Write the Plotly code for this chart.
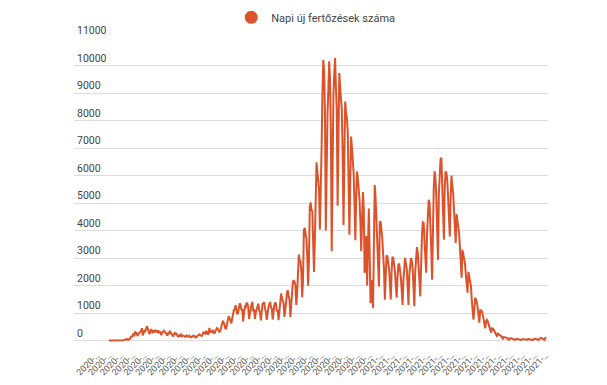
import pandas as pd
import plotly.graph_objects as go

# Days before the series starts (no value drawn)
cases_lead_in = [None] * 14

# Daily new infections, week rows starting Wed 2020-02-26
cases_2020_spring = [
    1, 0, 1, 1, 0, 0, 0,
    1, 1, 2, 3, 3, 3, 2,
    8, 13, 12, 10, 17, 29, 25,
    60, 30, 30, 59, 66, 143, 143,
    186, 263, 160, 308, 293, 251, 170,
    247, 309, 316, 353, 450, 193, 270,
    360, 346, 442, 523, 440, 314, 230,
    334, 414, 340, 274, 381, 306, 363,
    318, 314, 372, 309, 350, 233, 198,
    305, 314, 362, 327, 320, 248, 186,
    264, 253, 355, 300, 264, 190, 154,
    232, 278, 241, 250, 190, 130, 187,
    173, 219, 158, 190, 158, 165, 136,
    163, 191, 146, 140, 180, 133, 123,
]
cases_2020_summer = [
    136, 160, 182, 138, 154, 115, 146,
    188, 219, 230, 200, 190, 168, 214,
    320, 277, 254, 330, 320, 214, 262,
    460, 321, 325, 320, 390, 301, 250,
    337, 422, 456, 427, 377, 301, 362,
    555, 614, 698, 662, 559, 420, 456,
    673, 777, 889, 767, 698, 628, 800,
    1030, 1112, 1120, 1284, 1137, 960, 1020,
    1182, 1356, 1295, 1104, 1151, 694, 1000,
    1233, 1211, 1378, 1345, 1241, 793, 1046,
    1287, 1331, 1409, 1060, 1145, 789, 1020,
    1173, 1231, 1346, 1092, 1039, 733, 1060,
    1339, 1357, 1404, 1152, 1051, 757, 1050,
    1197, 1331, 1403, 1214, 1170, 767, 1218,
    1298, 1385, 1339, 1059, 1119, 741, 1193,
]
cases_2020_autumn = [
    1391, 1713, 1545, 1420, 1347, 866, 1059,
    1410, 1767, 1828, 1603, 1496, 851, 1235,
    1591, 2158, 2175, 2140, 1994, 1300, 1700,
    2958, 3130, 2919, 2880, 2516, 1578, 2200,
    4016, 4102, 3952, 3689, 3106, 2000, 2880,
    4848, 5028, 4742, 4712, 3727, 2496, 3630,
    5639, 6481, 6143, 5753, 5469, 4036, 5080,
    7000, 9000, 10200, 9800, 8300, 4000, 6500,
    8200, 9100, 10150, 9500, 7600, 3250, 6700,
    8900, 9700, 10270, 9200, 8400, 4900, 6800,
    9730, 9200, 8800, 8400, 6700, 4200, 6600,
    8690, 8300, 8100, 7600, 5900, 3850, 5800,
    7420, 7000, 6600, 6100, 5000, 3650, 5200,
    6150, 5900, 5600, 5100, 4300, 3250, 4400,
    5400, 4800, 2470, 2600, 3800, 2000, 4000,
]
cases_2021_winter = [
    4800, 3200, 1370, 1500, 2200, 1190, 3500,
    5660, 5200, 4400, 4100, 3100, 1970, 4330,
    4300, 4000, 3700, 3100, 2600, 1490, 2700,
    3100, 3060, 2900, 2600, 2100, 1500, 2500,
    3050, 3000, 2800, 2500, 2000, 1560, 2300,
    2760, 2800, 2600, 2300, 1800, 1300, 2200,
    2900, 3010, 2800, 2600, 2000, 1300, 2400,
    2800, 3000, 2900, 2600, 1900, 1250, 2500,
    3300, 3400, 3200, 2800, 2200, 1610, 3300,
]
cases_2021_spring = [
    3850, 4300, 4280, 3600, 3000, 2470, 3900,
    4700, 5120, 5010, 4300, 3300, 2210, 4500,
    5600, 6150, 5900, 5200, 4200, 2940, 5300,
    6000, 6600, 6650, 5700, 4700, 3670, 5600,
    6150, 6100, 5800, 5200, 4300, 3790, 5200,
    6000, 5600, 5370, 4700, 4000, 3550, 4600,
    4400, 4030, 3900, 3400, 2700, 2290, 3300,
    3100, 3010, 2800, 2400, 1900, 1740, 2500,
    2300, 2210, 2000, 1500, 900, 760, 1100,
    1560, 1500, 1400, 1200, 900, 650, 1100,
    1100, 1070, 950, 800, 600, 450, 700,
    750, 700, 600, 500, 400, 290, 450,
    440, 400, 340, 300, 240, 150, 250,
]
cases_2021_summer = [
    230, 220, 200, 160, 110, 70, 130,
    130, 120, 110, 90, 70, 35, 80,
    90, 85, 70, 55, 40, 25, 50,
    70, 65, 55, 45, 30, 15, 40,
    55, 60, 50, 45, 30, 15, 35,
    55, 60, 55, 45, 30, 18, 40,
    70, 75, 65, 55, 40, 22, 60,
    95, 100, 90, 75, 50, 30, 85,
    130,
]

cases = (cases_lead_in + cases_2020_spring + cases_2020_summer + cases_2020_autumn
         + cases_2021_winter + cases_2021_spring + cases_2021_summer)
dates = [d.strftime("%Y-%m-%d") for d in pd.date_range("2020-02-12", periods=len(cases), freq="D")]

tick_step = 14
tick_dates = dates[::tick_step]
tick_labels = [d[:5] + "…" for d in tick_dates]

y_ticks = [0, 1000, 2000, 3000, 4000, 5000, 6000, 7000, 8000, 9000, 10000, 11000]
y_tick_labels = [str(v) for v in y_ticks]

color = "#dc532b"
font = "Roboto, Arial, sans-serif"

fig = go.Figure()
fig.add_trace(go.Scatter(
    x=dates, y=cases, mode="lines",
    line=dict(color=color, width=2),
    name="Napi új fertőzések száma", showlegend=False,
))
fig.add_trace(go.Scatter(
    x=[None], y=[None], mode="markers",
    marker=dict(color=color, size=13, symbol="circle"),
    name="Napi új fertőzések száma", showlegend=True,
))

fig.update_layout(
    width=607, height=385,
    margin=dict(l=74, r=59, t=38, b=43, autoexpand=False),
    paper_bgcolor="white", plot_bgcolor="white",
    font=dict(family=font, color="#444444"),
    showlegend=True,
    legend=dict(
        orientation="h", x=0.51, xanchor="center",
        yref="container", y=0.955, yanchor="middle",
        font=dict(size=11, color="#444444", family=font),
        itemsizing="trace",
    ),
    xaxis=dict(
        type="category", range=[-27.5, len(cases) + 1.4],
        tickmode="array", tickvals=tick_dates, ticktext=tick_labels,
        tickangle=-45, tickfont=dict(size=9, color="#555555"),
        ticklabelstandoff=5,
        showgrid=False, showline=False, zeroline=False, ticks="",
        automargin=False,
    ),
    yaxis=dict(
        range=[-50, 11000], tickmode="array", tickvals=y_ticks, ticktext=y_tick_labels,
        ticklabelposition="inside top", ticklabeloverflow="allow",
        tickfont=dict(size=10.5, color="#444444"),
        showgrid=True, gridcolor="#dcdcdc", gridwidth=1,
        zeroline=False, showline=False, ticks="",
        automargin=False,
    ),
)

fig.write_html(
    "out.html",
    config={"displayModeBar": False},
    post_script="document.body.style.margin='0';document.body.style.overflow='hidden';",
)
